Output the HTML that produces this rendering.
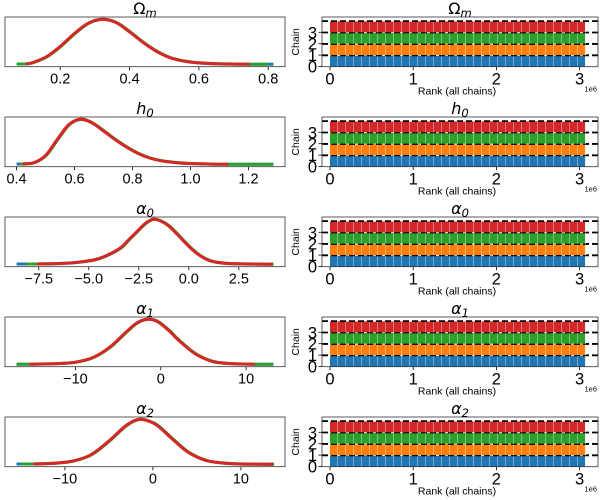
<!DOCTYPE html>
<html><head><meta charset="utf-8"><style>
html,body{margin:0;padding:0;background:#fff;}
svg{display:block;font-family:"Liberation Sans","DejaVu Sans",sans-serif;}
</style></head><body>
<svg id="fig" width="600" height="500" viewBox="0 0 600 500" xmlns="http://www.w3.org/2000/svg"></svg>
<script>
// ---- data ----
const paramNames = ["Ω", "h", "α", "α", "α"];
const paramSubs = ["m", "0", "0", "1", "2"];
const kdeX0 = [0.10,0.12,0.16,0.20,0.24,0.28,0.32,0.36,0.40,0.44,0.48,0.52,0.56,0.60,0.65,0.70,0.746];
const kdeY0 = [0.01,0.04,0.17,0.40,0.68,0.91,1.00,0.93,0.72,0.48,0.28,0.14,0.07,0.035,0.015,0.008,0.004];
const kdeX1 = [0.42,0.46,0.50,0.54,0.58,0.62,0.66,0.70,0.74,0.78,0.82,0.86,0.90,0.95,1.00,1.07,1.13];
const kdeY1 = [0.01,0.04,0.20,0.55,0.88,1.00,0.92,0.74,0.55,0.38,0.24,0.14,0.08,0.04,0.02,0.008,0.005];
const kdeX2 = [-7.6,-6.5,-5.5,-4.5,-3.5,-3.0,-2.5,-2.2,-1.8,-1.4,-1.0,-0.5,0.0,0.5,1.0,1.5,2.0,3.0,4.2];
const kdeY2 = [0.01,0.02,0.05,0.13,0.34,0.55,0.77,0.90,1.00,0.96,0.85,0.63,0.40,0.21,0.09,0.04,0.02,0.01,0.005];
const kdeX3 = [-15.4,-12,-10,-8,-6,-4,-2.8,-1.6,-0.4,1,2,4,6,8,11];
const kdeY3 = [0.005,0.02,0.05,0.15,0.38,0.73,0.92,1.00,0.95,0.74,0.55,0.24,0.07,0.02,0.005];
const kdeX4 = [-13.6,-11,-9,-7,-5,-3,-1.5,0,1,2,4,6,8,10,13.7];
const kdeY4 = [0.01,0.03,0.08,0.22,0.52,0.87,1.00,0.92,0.78,0.60,0.27,0.09,0.03,0.01,0.004];
const kdeXs = [kdeX0,kdeX1,kdeX2,kdeX3,kdeX4];
const kdeYs = [kdeY0,kdeY1,kdeY2,kdeY3,kdeY4];
const rangeMin = [0.074,0.40,-8.61,-16.9,-15.5];
const rangeMax = [0.815,1.286,4.23,13.2,13.7];
const greenMin = [0.074,0.41,-8.1,-16.9,-15.0];
const greenMax = [0.80,1.286,4.23,13.2,13.7];
const tickVals0 = [0.2,0.4,0.6,0.8];
const tickVals1 = [0.4,0.6,0.8,1.0,1.2];
const tickVals2 = [-7.5,-5.0,-2.5,0.0,2.5];
const tickVals3 = [-10,0,10];
const tickVals4 = [-10,0,10];
const tickLabels0 = ["0.2","0.4","0.6","0.8"];
const tickLabels1 = ["0.4","0.6","0.8","1.0","1.2"];
const tickLabels2 = ["−7.5","−5.0","−2.5","0.0","2.5"];
const tickLabels3 = ["−10","0","10"];
const tickLabels4 = ["−10","0","10"];
const tickVals = [tickVals0,tickVals1,tickVals2,tickVals3,tickVals4];
const tickLabels = [tickLabels0,tickLabels1,tickLabels2,tickLabels3,tickLabels4];
// rank bars (normalized heights per bin)
const rankChain0 = [0.95,0.93,0.96,0.94,0.97,0.95,0.93,0.96,0.95,0.94,0.96,0.95,0.97,0.93,0.95,0.96,0.94,0.95,0.96,0.93,0.95,0.97,0.94,0.95,0.96,0.94,0.95,0.93,0.96,0.95,0.94,0.96];
const rankChain1 = [0.94,0.96,0.95,0.93,0.95,0.97,0.94,0.95,0.96,0.93,0.95,0.94,0.96,0.95,0.97,0.93,0.95,0.94,0.96,0.95,0.93,0.95,0.96,0.94,0.97,0.95,0.93,0.96,0.95,0.94,0.95,0.96];
const rankChain2 = [0.96,0.94,0.95,0.97,0.93,0.95,0.96,0.94,0.93,0.96,0.95,0.97,0.94,0.95,0.93,0.96,0.95,0.94,0.97,0.95,0.96,0.93,0.95,0.94,0.96,0.95,0.97,0.94,0.93,0.96,0.95,0.94];
const rankChain3 = [0.95,0.97,0.94,0.95,0.96,0.93,0.95,0.94,0.97,0.95,0.93,0.96,0.95,0.94,0.96,0.95,0.93,0.97,0.94,0.95,0.96,0.94,0.93,0.96,0.95,0.97,0.94,0.95,0.96,0.93,0.95,0.94];
const rankChains = [rankChain0,rankChain1,rankChain2,rankChain3];
const rankMax = 3.07e6;
const rankTicks = [0,1,2,3];
const chainTicks = [0,1,2,3];
const refLevel = 0.95;

// ---- drawing ----
const svg = document.getElementById('fig');
const NS = 'http://www.w3.org/2000/svg';
const colors = ['#1f77b4','#ff7f0e','#2ca02c','#d62728'];
function mk(tag, attrs, parent){
  const e = document.createElementNS(NS, tag);
  for (const k in attrs) e.setAttribute(k, attrs[k]);
  (parent||svg).appendChild(e);
  return e;
}
function smoothPath(pts){
  let d = 'M'+pts[0][0].toFixed(2)+','+pts[0][1].toFixed(2);
  for (let i=0;i<pts.length-1;i++){
    const p0=pts[Math.max(0,i-1)], p1=pts[i], p2=pts[i+1], p3=pts[Math.min(pts.length-1,i+2)];
    const c1=[p1[0]+(p2[0]-p0[0])/6, p1[1]+(p2[1]-p0[1])/6];
    const c2=[p2[0]-(p3[0]-p1[0])/6, p2[1]-(p3[1]-p1[1])/6];
    d+=' C'+c1[0].toFixed(2)+','+c1[1].toFixed(2)+' '+c2[0].toFixed(2)+','+c2[1].toFixed(2)+' '+p2[0].toFixed(2)+','+p2[1].toFixed(2);
  }
  return d;
}
function seg(parent, x1, x2, y, color, name){
  if (x2 <= x1) return;
  const l = mk('line',{x1:x1,x2:x2,y1:y,y2:y,stroke:color,'stroke-width':3},parent);
  
  
}
const LX0=5, LX1=285, RX0=322, RX1=598;
for (let p=0;p<5;p++){
  const top = 17+100*p, bot = 66.7+100*p;
  const g = mk('g',{});
  
  
  // ---------- left KDE panel ----------
  const lg = mk('g',{},g);
  
  
  const pad = (rangeMax[p]-rangeMin[p])*0.045;
  const xmin = rangeMin[p]-pad, xmax = rangeMax[p]+pad;
  const xs = v => LX0 + (v-xmin)/(xmax-xmin)*(LX1-LX0);
  const yBase = bot - (bot-top)/1.1*0.05;
  const ys = v => yBase - v*(bot-top)/1.1;
  tickVals[p].forEach((t,i)=>{
    const x = xs(t);
    const tk = mk('line',{x1:x,x2:x,y1:bot,y2:bot+3.5,stroke:'#000','stroke-width':0.8},lg);
    
    
    const tl = mk('text',{x:x,y:bot+17,'text-anchor':'middle','font-size':14.5,fill:'#000'},lg);
    tl.textContent = tickLabels[p][i];
    
    
  });
  const xs0 = kdeXs[p], ys0 = kdeYs[p];
  const redStart = xs0[0], redEnd = xs0[xs0.length-1];
  const yb = ys(ys0[0]);
  const ye = ys(ys0[ys0.length-1]);
  // end segments for other chains
  seg(lg, xs(rangeMin[p]), xs(redStart), yb, colors[0], 'chain-0-kde');
  seg(lg, xs(redEnd), xs(rangeMax[p]), ye, colors[0], 'chain-0-kde');
  seg(lg, xs(greenMin[p]), xs(redStart), yb, colors[2], 'chain-2-kde');
  seg(lg, xs(redEnd), xs(greenMax[p]), ye, colors[2], 'chain-2-kde');
  const pts = xs0.map((x,i)=>[xs(x), ys(ys0[i])]);
  const gc = mk('path',{d:smoothPath(pts),fill:'none',stroke:colors[2],'stroke-width':3.2,transform:'translate(0.6,0)'},lg);
  
  
  const rc = mk('path',{d:smoothPath(pts),fill:'none',stroke:colors[3],'stroke-width':3,'stroke-linejoin':'round'},lg);
  
  
  const lf = mk('rect',{x:LX0,y:top,width:LX1-LX0,height:bot-top,fill:'none',stroke:'#333','stroke-width':0.8},lg);
  
  
  const lt = mk('text',{x:(LX0+LX1)/2,y:top-3,'text-anchor':'middle','font-size':16,fill:'#000','font-family':'DejaVu Sans, sans-serif'},lg);
  lt.innerHTML = '<tspan font-style="'+(p===0?'normal':'italic')+'">'+paramNames[p]+'</tspan><tspan font-style="italic" font-size="11.5" dy="3">'+paramSubs[p]+'</tspan>';
  
  
  // ---------- right rank panel ----------
  const rg = mk('g',{},g);
  
  
  const rx = v => 330 + v/1e6*83.2;
  const ry = v => 66.5+100*p - v*11.4;
  const nb = rankChain0.length, bw = rankMax/nb;
  rankChains.forEach((arr,c)=>{
    arr.forEach((h,i)=>{
      const x0 = rx(i*bw), x1 = rx((i+1)*bw);
      const b = mk('rect',{x:x0,y:ry(c+h),width:x1-x0,height:ry(c)-ry(c+h),fill:colors[c]},rg);
      
      
      const s = mk('line',{x1:x1,x2:x1,y1:ry(c+h),y2:ry(c),stroke:'#fff','stroke-width':0.9,'stroke-opacity':0.8},rg);
      
      
    });
    const dl = mk('line',{x1:RX0,x2:RX1,y1:ry(c+refLevel+0.03),y2:ry(c+refLevel+0.03),stroke:'#000','stroke-width':1.8,'stroke-dasharray':'6,3'},rg);
    
    
  });
  rankTicks.forEach(t=>{
    const x = rx(t*1e6);
    const tk = mk('line',{x1:x,x2:x,y1:bot,y2:bot+3.5,stroke:'#000','stroke-width':0.8},rg);
    
    
    const tl = mk('text',{x:x,y:bot+18,'text-anchor':'middle','font-size':16.5,fill:'#000'},rg);
    tl.textContent = String(t);
    
    
  });
  chainTicks.forEach(t=>{
    const y = ry(t);
    const tk = mk('line',{x1:RX0-3.5,x2:RX0,y1:y,y2:y,stroke:'#000','stroke-width':0.8},rg);
    
    
    const tl = mk('text',{x:RX0-5,y:y+6,'text-anchor':'end','font-size':16.5,fill:'#000'},rg);
    tl.textContent = String(t);
    
    
  });
  const rf = mk('rect',{x:RX0,y:top,width:RX1-RX0,height:bot-top,fill:'none',stroke:'#333','stroke-width':0.8},rg);
  
  
  const rt = mk('text',{x:(RX0+RX1)/2,y:top-3,'text-anchor':'middle','font-size':16,fill:'#000','font-family':'DejaVu Sans, sans-serif'},rg);
  rt.innerHTML = '<tspan font-style="'+(p===0?'normal':'italic')+'">'+paramNames[p]+'</tspan><tspan font-style="italic" font-size="11.5" dy="3">'+paramSubs[p]+'</tspan>';
  
  
  const xl = mk('text',{x:457,y:bot+28,'text-anchor':'middle','font-size':10.5,fill:'#000'},rg);
  xl.textContent = 'Rank (all chains)';
  
  
  const oe = mk('text',{x:597,y:bot+25,'text-anchor':'end','font-size':7.5,fill:'#000'},rg);
  oe.textContent = '1e6';
  
  
  const yl = mk('text',{x:0,y:0,'text-anchor':'middle','font-size':10.5,fill:'#000',transform:'translate(299,'+((top+bot)/2)+') rotate(-90)'},rg);
  yl.textContent = 'Chain';
  
  
}
</script>
</body></html>
